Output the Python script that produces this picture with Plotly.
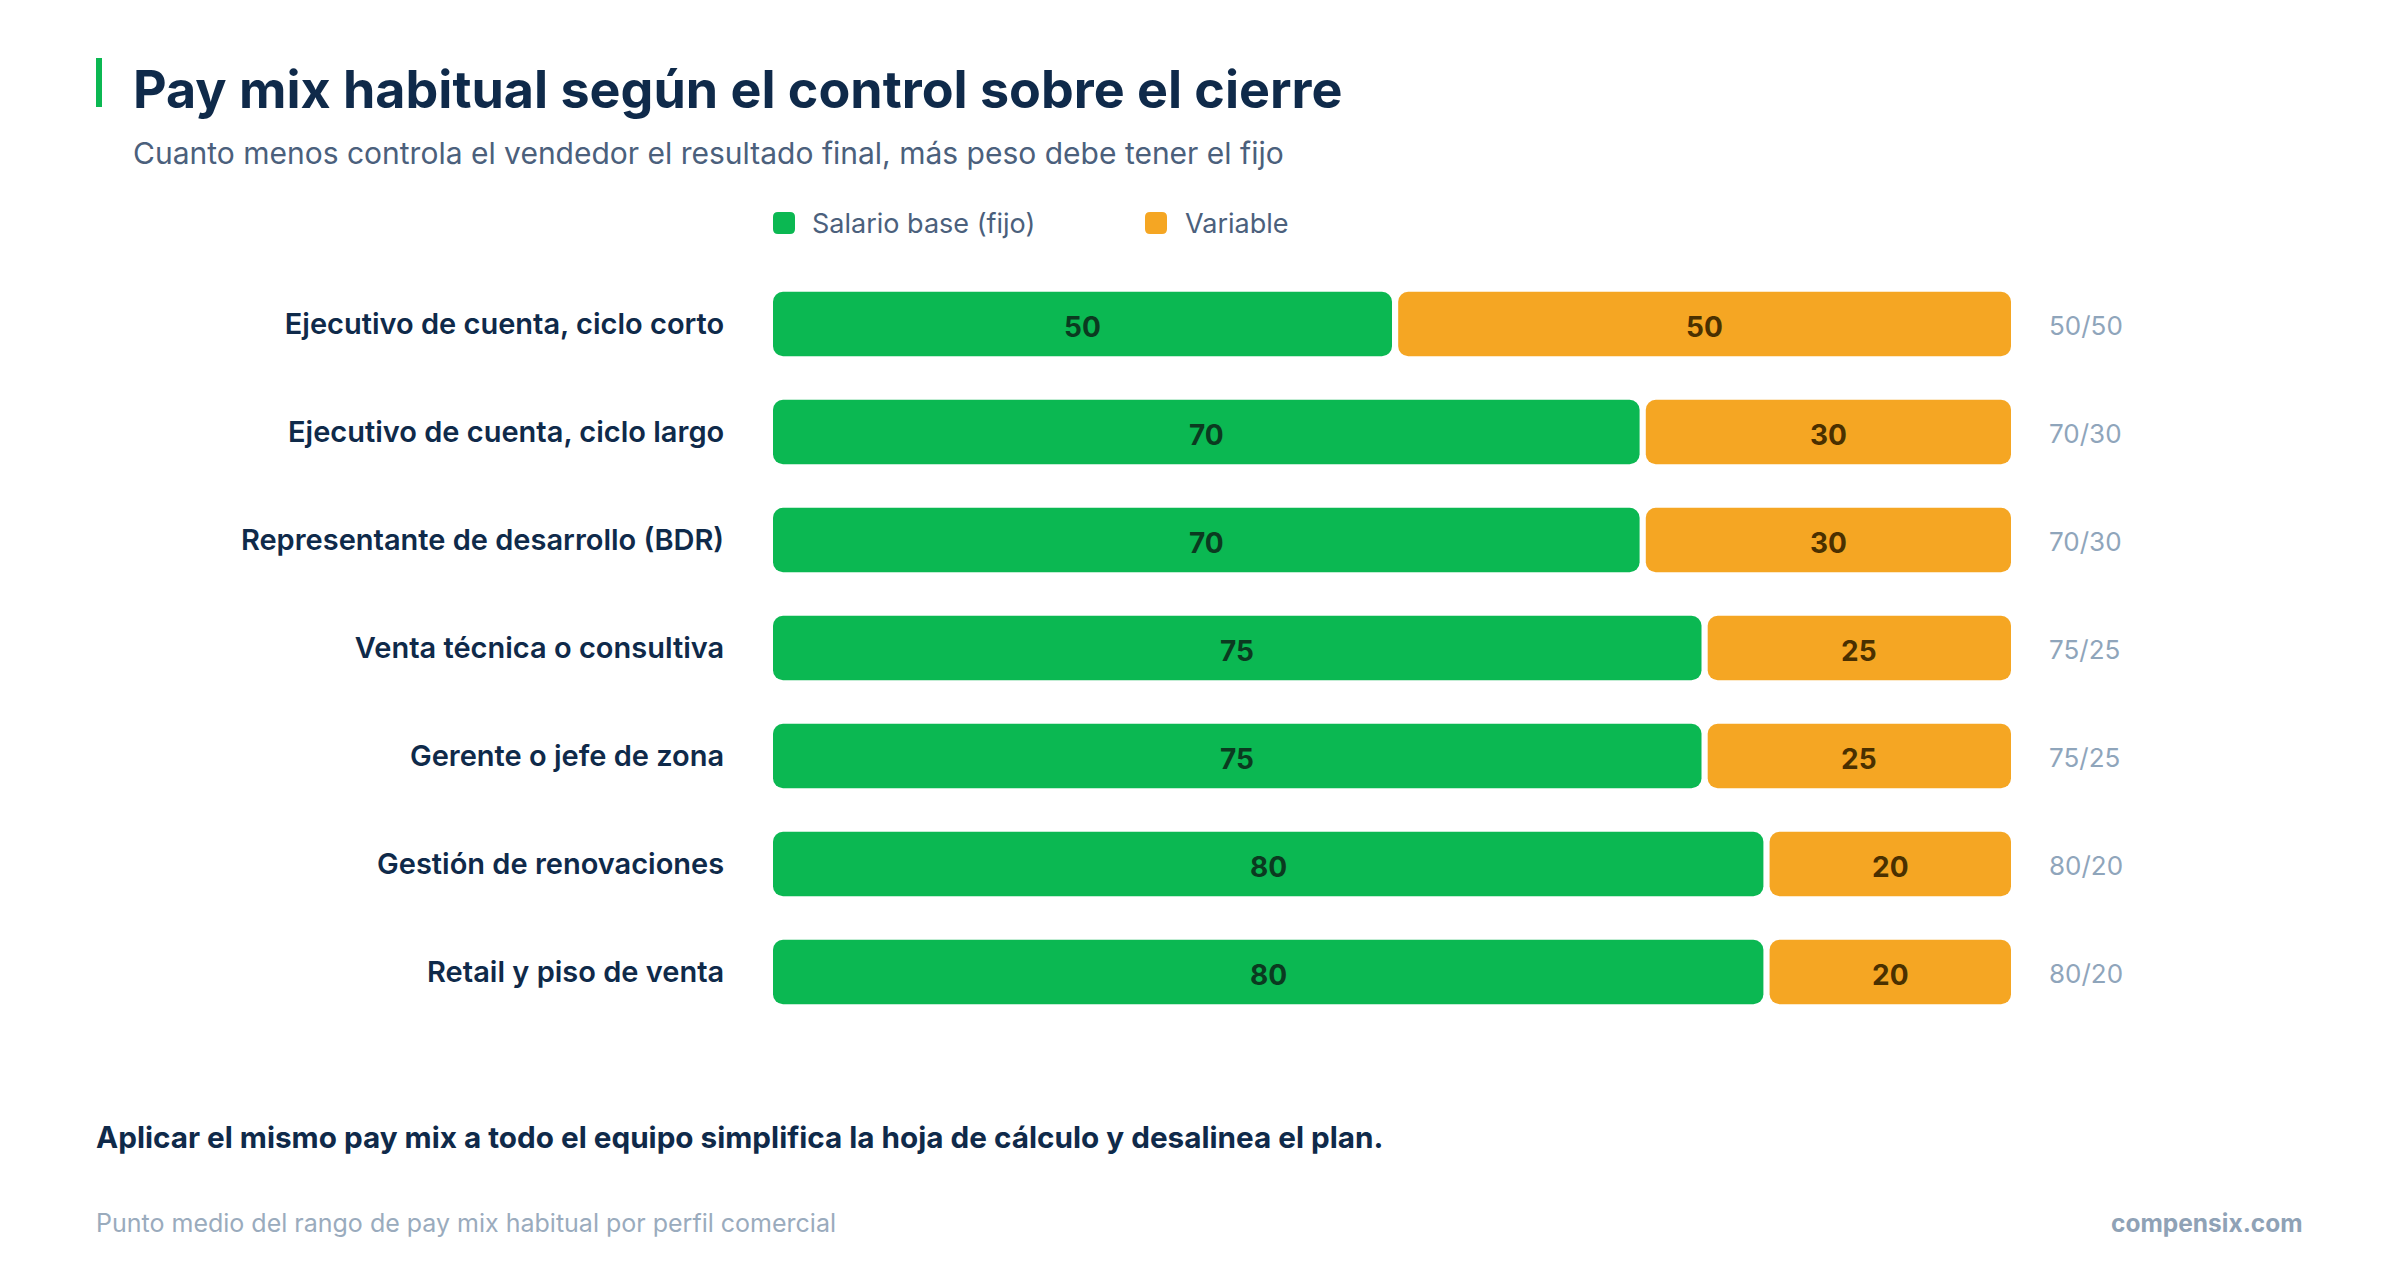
import plotly.graph_objects as go

# data
perfiles = [
    "Ejecutivo de cuenta, ciclo corto",
    "Ejecutivo de cuenta, ciclo largo",
    "Representante de desarrollo (BDR)",
    "Venta técnica o consultiva",
    "Gerente o jefe de zona",
    "Gestión de renovaciones",
    "Retail y piso de venta",
]
fijo = [50, 70, 70, 75, 75, 80, 80]
variable = [50, 30, 30, 25, 25, 20, 20]
mix_labels = ["50/50", "70/30", "70/30", "75/25", "75/25", "80/20", "80/20"]

VERDE = "#0bb852"
NARANJA = "#f5a623"
NAVY = "#0f2a4a"
FONT = "Inter"
GAP = 0.5  # white gap before the orange segment, in axis units

# plot area in pixels (used to place header/footer text in paper coords)
W, H = 2400, 1280
OFF = 8  # page offset of the rendered figure
L, R, T, B = 773 - OFF, 2011 - OFF, 270 - OFF, 1026 - OFF


def px(x):
    return (x - OFF - L) / (R - L)


def py(y):
    return (B - (y - OFF)) / (B - T)


def rounded_square(x0, y0, size, r):
    # small rounded legend swatch, given in page pixels, returned as paper path
    x1, y1 = x0 + size, y0 + size
    pts = [
        f"M {px(x0 + r)},{py(y0)}",
        f"L {px(x1 - r)},{py(y0)}",
        f"Q {px(x1)},{py(y0)} {px(x1)},{py(y0 + r)}",
        f"L {px(x1)},{py(y1 - r)}",
        f"Q {px(x1)},{py(y1)} {px(x1 - r)},{py(y1)}",
        f"L {px(x0 + r)},{py(y1)}",
        f"Q {px(x0)},{py(y1)} {px(x0)},{py(y1 - r)}",
        f"L {px(x0)},{py(y0 + r)}",
        f"Q {px(x0)},{py(y0)} {px(x0 + r)},{py(y0)}",
        "Z",
    ]
    return " ".join(pts)


fig = go.Figure()

o_start = [f + GAP for f in fijo]
o_len = [v - GAP for v in variable]

fig.add_trace(go.Bar(
    y=perfiles, x=fijo, base=[0] * len(fijo), orientation="h", name="Salario base (fijo)",
    marker=dict(color=VERDE, cornerradius=10, line=dict(width=0)),
    width=0.595, hoverinfo="skip",
))
fig.add_trace(go.Bar(
    y=perfiles, x=o_len, base=o_start, orientation="h", name="Variable",
    marker=dict(color=NARANJA, cornerradius=10, line=dict(width=0)),
    width=0.595, hoverinfo="skip",
))

annotations = []
for p, f, v, s, n, lab in zip(perfiles, fijo, variable, o_start, o_len, mix_labels):
    # value inside the green segment
    annotations.append(dict(
        x=f / 2, y=p, xref="x", yref="y", text=str(f), showarrow=False,
        yshift=-3, font=dict(family=FONT, size=28, color="#0b3a20", weight=700),
    ))
    # value inside the orange segment
    annotations.append(dict(
        x=s + n / 2, y=p, xref="x", yref="y", text=str(v), showarrow=False,
        yshift=-3, font=dict(family=FONT, size=28, color="#4a3000", weight=700),
    ))
    # mix label on the right
    annotations.append(dict(
        x=f + v, y=p, xref="x", yref="y", text=lab, showarrow=False,
        xanchor="left", xshift=36, yshift=-1,
        font=dict(family=FONT, size=26, color="#8fa5bb"),
    ))

# header, legend and footer
annotations += [
    dict(x=px(131), y=py(89), xref="paper", yref="paper", xanchor="left", yanchor="middle",
         text="Pay mix habitual según el control sobre el cierre", showarrow=False,
         font=dict(family=FONT, size=52, color=NAVY, weight=700)),
    dict(x=px(131), y=py(153), xref="paper", yref="paper", xanchor="left", yanchor="middle",
         text="Cuanto menos controla el vendedor el resultado final, más peso debe tener el fijo",
         showarrow=False, font=dict(family=FONT, size=30, color="#4b607c")),
    dict(x=px(810), y=py(223), xref="paper", yref="paper", xanchor="left", yanchor="middle",
         text="Salario base (fijo)", showarrow=False, font=dict(family=FONT, size=27, color="#4b607c")),
    dict(x=px(1183), y=py(223), xref="paper", yref="paper", xanchor="left", yanchor="middle",
         text="Variable", showarrow=False, font=dict(family=FONT, size=27, color="#4b607c")),
    dict(x=px(94), y=py(1137), xref="paper", yref="paper", xanchor="left", yanchor="middle",
         text="Aplicar el mismo pay mix a todo el equipo simplifica la hoja de cálculo y desalinea el plan.",
         showarrow=False, font=dict(family=FONT, size=29.7, color=NAVY, weight=700)),
    dict(x=px(94), y=py(1223), xref="paper", yref="paper", xanchor="left", yanchor="middle",
         text="Punto medio del rango de pay mix habitual por perfil comercial",
         showarrow=False, font=dict(family=FONT, size=25, color="#9aabbd")),
    dict(x=px(2305), y=py(1223), xref="paper", yref="paper", xanchor="right", yanchor="middle",
         text="compensix.com", showarrow=False, font=dict(family=FONT, size=24.5, color="#8fa2b6", weight=700)),
]

shapes = [
    dict(type="line", xref="paper", yref="paper", x0=px(99), x1=px(99),
         y0=py(58), y1=py(107), line=dict(color=VERDE, width=6)),
    dict(type="path", xref="paper", yref="paper", path=rounded_square(773, 212, 22, 5),
         fillcolor=VERDE, line=dict(width=0)),
    dict(type="path", xref="paper", yref="paper", path=rounded_square(1145, 212, 22, 5),
         fillcolor=NARANJA, line=dict(width=0)),
]

fig.update_layout(
    width=W, height=H,
    barmode="overlay",
    paper_bgcolor="white", plot_bgcolor="white",
    margin=dict(l=L, r=W - R, t=T, b=H - B),
    xaxis=dict(range=[0, 100], visible=False, fixedrange=True),
    yaxis=dict(
        categoryorder="array", categoryarray=perfiles, autorange="reversed",
        showgrid=False, zeroline=False, showline=False,
        ticks="outside", ticklen=0, ticklabelstandoff=42,
        tickfont=dict(family=FONT, size=29, color=NAVY, weight=600),
    ),
    annotations=annotations,
    shapes=shapes,
    showlegend=False,
)

fig.write_html("out.html")
